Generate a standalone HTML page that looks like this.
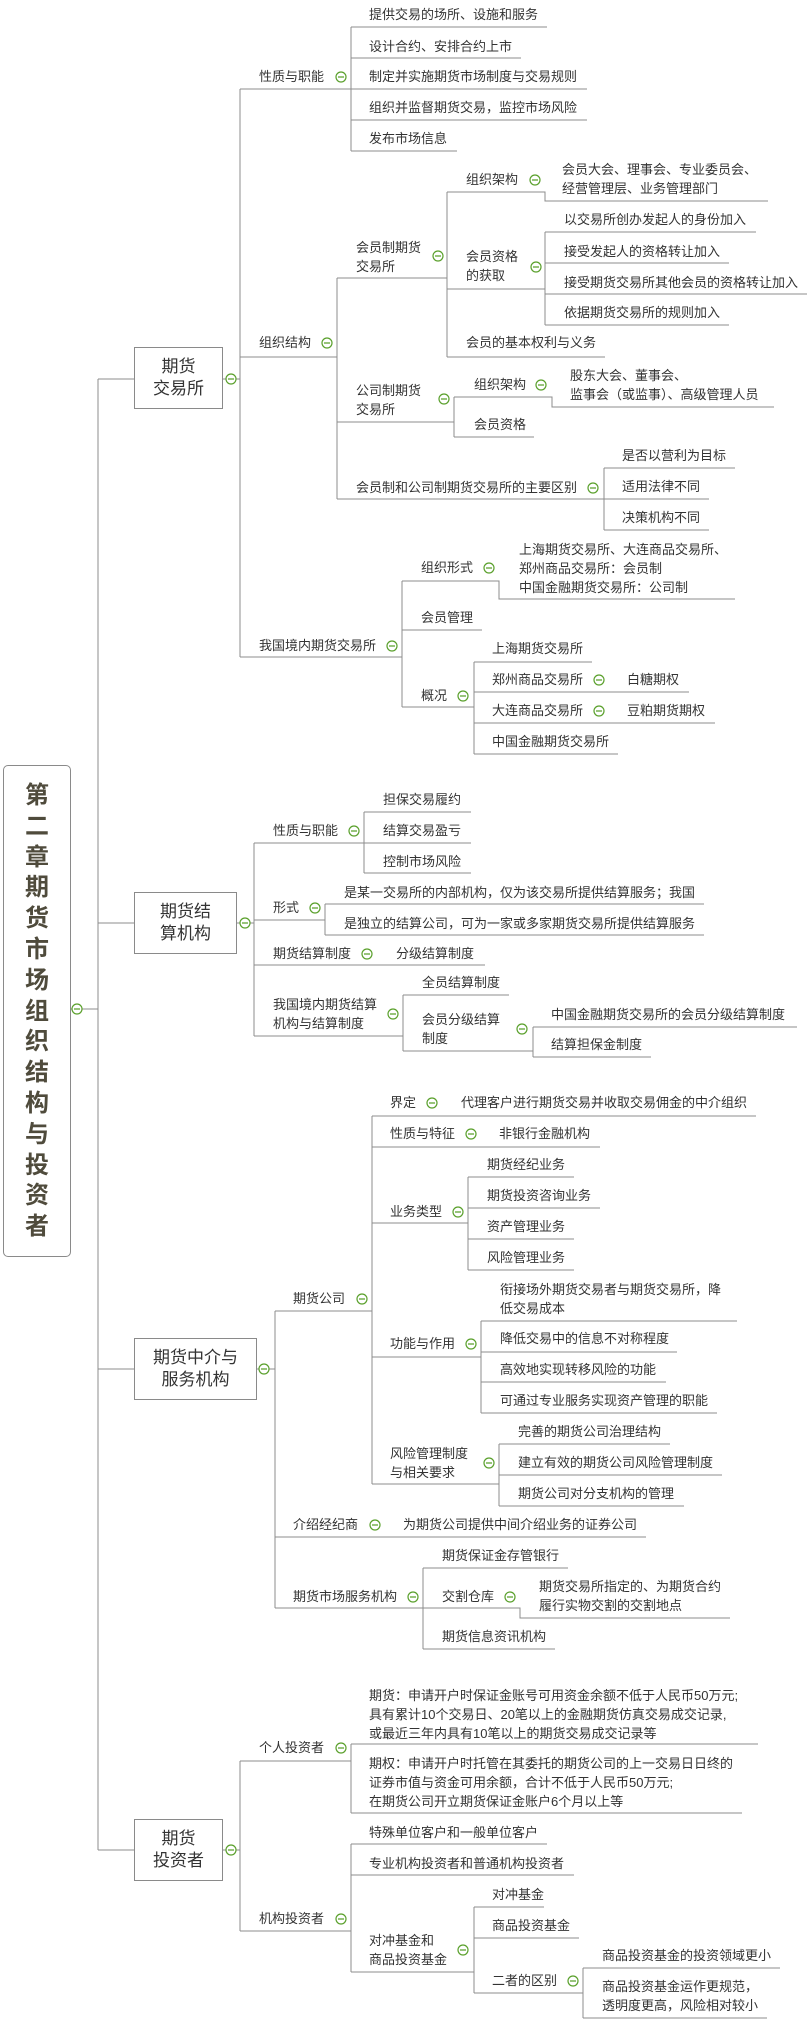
<!DOCTYPE html>
<html><head><meta charset="utf-8">
<style>
body{margin:0;background:#fff;}
#w{position:relative;width:809px;height:2022px;overflow:hidden;background:#fff;font-family:"Liberation Sans","Noto Sans CJK SC",sans-serif;color:#333;}
.t{position:absolute;font-size:13px;line-height:16px;white-space:nowrap;}
.m{line-height:19px;}
.box{position:absolute;border:1px solid #8a8a8a;box-sizing:border-box;font-size:17px;line-height:22px;text-align:center;display:flex;align-items:center;justify-content:center;color:#333;background:#fff;}
#root{position:absolute;left:3px;top:765px;width:68px;height:492px;border:1px solid #8a8a8a;border-radius:5px;box-sizing:border-box;text-align:center;font-weight:bold;font-size:24px;line-height:30.8px;color:#4f4b3c;padding-top:15px;}
svg{position:absolute;left:0;top:0;}
</style></head><body><div id="w">
<svg width="809" height="2022" viewBox="0 0 809 2022">
<g fill="none" stroke="#8c8c8c" stroke-width="1" shape-rendering="crispEdges">
<path d="M70 1009H98M98 379V1850M98 379H134M98 923H134M98 1369H134M98 1850H134"/>
<path d="M223 379H240M240 89V657M240 89H351M351 27V151M351 27H547M351 58H521M351 89H587M351 120H587M351 151H457"/>
<path d="M240 357H337M337 278V499M337 278H447M447 192V357M447 192H545V201H768M447 289H545M545 232V325M545 232H756M545 263H729M545 294H807M545 325H729M447 357H605"/>
<path d="M337 422H454M454 397V437M454 397H552V407H774M454 437H534"/>
<path d="M337 499H604M604 468V530M604 468H735M604 499H709M604 530H709"/>
<path d="M240 657H402M402 581V707M402 581H499V599H735M402 630H482M402 707H474M474 662V754M474 662H592M474 692H689M474 723H715M474 754H618"/>
<path d="M237 923H254M254 843V1036M254 843H364M364 812V873M364 812H471M364 843H471M364 873H471M254 920H325M325 904V935M325 904H704M325 935H704M254 965H485M254 1036H403M403 995V1051M403 995H509M403 1051H533M533 1027V1057M533 1027H797M533 1057H651"/>
<path d="M257 1369H275M275 1311V1608M275 1311H372M372 1116V1484M372 1116H756M372 1147H600M372 1223H468M468 1177V1270M468 1177H574M468 1208H600M468 1239H574M468 1270H574M372 1357H481M481 1321V1413M481 1321H737M481 1352H677M481 1382H666M481 1413H717M372 1484H499M499 1444V1506M499 1444H670M499 1475H722M499 1506H684M275 1537H646M275 1608H423M423 1568V1649M423 1568H568M423 1608H520V1618H730M423 1649H555"/>
<path d="M223 1850H240M240 1761V1931M240 1761H351M351 1744V1813M351 1744H758M351 1813H742M240 1931H351M351 1844V1972M351 1844H547M351 1875H574M351 1972H474M474 1907V1993M474 1907H544M474 1938H579M474 1993H583M583 1968V2018M583 1968H780M583 2018H767"/>
</g>
<g fill="#fff" stroke="#5aa02c" stroke-width="1.2">
<circle cx="77" cy="1009" r="5"/><circle cx="231" cy="379" r="5"/><circle cx="341" cy="77" r="5"/><circle cx="327" cy="343" r="5"/><circle cx="438" cy="256" r="5"/><circle cx="535" cy="180" r="5"/><circle cx="536" cy="267" r="5"/><circle cx="444" cy="399" r="5"/><circle cx="541" cy="385" r="5"/><circle cx="593" cy="488" r="5"/><circle cx="392" cy="646" r="5"/><circle cx="489" cy="568" r="5"/><circle cx="463" cy="696" r="5"/><circle cx="599" cy="680" r="5"/><circle cx="599" cy="711" r="5"/><circle cx="245" cy="923" r="5"/><circle cx="354" cy="831" r="5"/><circle cx="315" cy="908" r="5"/><circle cx="367" cy="954" r="5"/><circle cx="393" cy="1014" r="5"/><circle cx="522" cy="1029" r="5"/><circle cx="264" cy="1369" r="5"/><circle cx="362" cy="1299" r="5"/><circle cx="432" cy="1103" r="5"/><circle cx="471" cy="1134" r="5"/><circle cx="458" cy="1212" r="5"/><circle cx="471" cy="1344" r="5"/><circle cx="489" cy="1463" r="5"/><circle cx="375" cy="1525" r="5"/><circle cx="413" cy="1597" r="5"/><circle cx="510" cy="1597" r="5"/><circle cx="231" cy="1850" r="5"/><circle cx="341" cy="1748" r="5"/><circle cx="341" cy="1919" r="5"/><circle cx="463" cy="1950" r="5"/><circle cx="573" cy="1981" r="5"/>
</g>
<g stroke="#5aa02c" stroke-width="1.2">
<path d="M74 1009h6M228 379h6M338 77h6M324 343h6M435 256h6M532 180h6M533 267h6M441 399h6M538 385h6M590 488h6M389 646h6M486 568h6M460 696h6M596 680h6M596 711h6M242 923h6M351 831h6M312 908h6M364 954h6M390 1014h6M519 1029h6M261 1369h6M359 1299h6M429 1103h6M468 1134h6M455 1212h6M468 1344h6M486 1463h6M372 1525h6M410 1597h6M507 1597h6M228 1850h6M338 1748h6M338 1919h6M460 1950h6M570 1981h6"/>
</g>
</svg>

<div id="root">第<br>二<br>章<br>期<br>货<br>市<br>场<br>组<br>织<br>结<br>构<br>与<br>投<br>资<br>者</div>

<div class="box" style="left:134px;top:347px;width:89px;height:62px;">期货<br>交易所</div>
<div class="box" style="left:134px;top:892px;width:103px;height:62px;">期货结<br>算机构</div>
<div class="box" style="left:134px;top:1338px;width:123px;height:62px;">期货中介与<br>服务机构</div>
<div class="box" style="left:134px;top:1819px;width:89px;height:62px;">期货<br>投资者</div>

<!-- section 1 -->
<div class="t" style="left:259px;top:69px">性质与职能</div>
<div class="t" style="left:369px;top:7px">提供交易的场所、设施和服务</div>
<div class="t" style="left:369px;top:39px">设计合约、安排合约上市</div>
<div class="t" style="left:369px;top:69px">制定并实施期货市场制度与交易规则</div>
<div class="t" style="left:369px;top:100px">组织并监督期货交易，监控市场风险</div>
<div class="t" style="left:369px;top:131px">发布市场信息</div>
<div class="t" style="left:259px;top:335px">组织结构</div>
<div class="t m" style="left:356px;top:238px">会员制期货<br>交易所</div>
<div class="t" style="left:466px;top:172px">组织架构</div>
<div class="t m" style="left:562px;top:160px">会员大会、理事会、专业委员会、<br>经营管理层、业务管理部门</div>
<div class="t m" style="left:466px;top:247px">会员资格<br>的获取</div>
<div class="t" style="left:564px;top:212px">以交易所创办发起人的身份加入</div>
<div class="t" style="left:564px;top:244px">接受发起人的资格转让加入</div>
<div class="t" style="left:564px;top:275px">接受期货交易所其他会员的资格转让加入</div>
<div class="t" style="left:564px;top:305px">依据期货交易所的规则加入</div>
<div class="t" style="left:466px;top:335px">会员的基本权利与义务</div>
<div class="t m" style="left:356px;top:381px">公司制期货<br>交易所</div>
<div class="t" style="left:474px;top:377px">组织架构</div>
<div class="t m" style="left:570px;top:366px">股东大会、董事会、<br>监事会（或监事）、高级管理人员</div>
<div class="t" style="left:474px;top:417px">会员资格</div>
<div class="t" style="left:356px;top:480px">会员制和公司制期货交易所的主要区别</div>
<div class="t" style="left:622px;top:448px">是否以营利为目标</div>
<div class="t" style="left:622px;top:479px">适用法律不同</div>
<div class="t" style="left:622px;top:510px">决策机构不同</div>
<div class="t" style="left:259px;top:638px">我国境内期货交易所</div>
<div class="t" style="left:421px;top:560px">组织形式</div>
<div class="t m" style="left:519px;top:540px">上海期货交易所、大连商品交易所、<br>郑州商品交易所：会员制<br>中国金融期货交易所：公司制</div>
<div class="t" style="left:421px;top:610px">会员管理</div>
<div class="t" style="left:421px;top:688px">概况</div>
<div class="t" style="left:492px;top:641px">上海期货交易所</div>
<div class="t" style="left:492px;top:672px">郑州商品交易所</div>
<div class="t" style="left:627px;top:672px">白糖期权</div>
<div class="t" style="left:492px;top:703px">大连商品交易所</div>
<div class="t" style="left:627px;top:703px">豆粕期货期权</div>
<div class="t" style="left:492px;top:734px">中国金融期货交易所</div>

<!-- section 2 -->
<div class="t" style="left:273px;top:823px">性质与职能</div>
<div class="t" style="left:383px;top:792px">担保交易履约</div>
<div class="t" style="left:383px;top:823px">结算交易盈亏</div>
<div class="t" style="left:383px;top:854px">控制市场风险</div>
<div class="t" style="left:273px;top:900px">形式</div>
<div class="t" style="left:344px;top:885px">是某一交易所的内部机构，仅为该交易所提供结算服务；我国</div>
<div class="t" style="left:344px;top:916px">是独立的结算公司，可为一家或多家期货交易所提供结算服务</div>
<div class="t" style="left:273px;top:946px">期货结算制度</div>
<div class="t" style="left:396px;top:946px">分级结算制度</div>
<div class="t m" style="left:273px;top:995px">我国境内期货结算<br>机构与结算制度</div>
<div class="t" style="left:422px;top:975px">全员结算制度</div>
<div class="t m" style="left:422px;top:1010px">会员分级结算<br>制度</div>
<div class="t" style="left:551px;top:1007px">中国金融期货交易所的会员分级结算制度</div>
<div class="t" style="left:551px;top:1037px">结算担保金制度</div>

<!-- section 3 -->
<div class="t" style="left:293px;top:1291px">期货公司</div>
<div class="t" style="left:390px;top:1095px">界定</div>
<div class="t" style="left:461px;top:1095px">代理客户进行期货交易并收取交易佣金的中介组织</div>
<div class="t" style="left:390px;top:1126px">性质与特征</div>
<div class="t" style="left:499px;top:1126px">非银行金融机构</div>
<div class="t" style="left:390px;top:1204px">业务类型</div>
<div class="t" style="left:487px;top:1157px">期货经纪业务</div>
<div class="t" style="left:487px;top:1188px">期货投资咨询业务</div>
<div class="t" style="left:487px;top:1219px">资产管理业务</div>
<div class="t" style="left:487px;top:1250px">风险管理业务</div>
<div class="t" style="left:390px;top:1336px">功能与作用</div>
<div class="t m" style="left:500px;top:1280px">衔接场外期货交易者与期货交易所，降<br>低交易成本</div>
<div class="t" style="left:500px;top:1331px">降低交易中的信息不对称程度</div>
<div class="t" style="left:500px;top:1362px">高效地实现转移风险的功能</div>
<div class="t" style="left:500px;top:1393px">可通过专业服务实现资产管理的职能</div>
<div class="t m" style="left:390px;top:1444px">风险管理制度<br>与相关要求</div>
<div class="t" style="left:518px;top:1424px">完善的期货公司治理结构</div>
<div class="t" style="left:518px;top:1455px">建立有效的期货公司风险管理制度</div>
<div class="t" style="left:518px;top:1486px">期货公司对分支机构的管理</div>
<div class="t" style="left:293px;top:1517px">介绍经纪商</div>
<div class="t" style="left:403px;top:1517px">为期货公司提供中间介绍业务的证券公司</div>
<div class="t" style="left:293px;top:1589px">期货市场服务机构</div>
<div class="t" style="left:442px;top:1548px">期货保证金存管银行</div>
<div class="t" style="left:442px;top:1589px">交割仓库</div>
<div class="t m" style="left:539px;top:1577px">期货交易所指定的、为期货合约<br>履行实物交割的交割地点</div>
<div class="t" style="left:442px;top:1629px">期货信息资讯机构</div>

<!-- section 4 -->
<div class="t" style="left:259px;top:1740px">个人投资者</div>
<div class="t m" style="left:369px;top:1686px">期货：申请开户时保证金账号可用资金余额不低于人民币50万元;<br>具有累计10个交易日、20笔以上的金融期货仿真交易成交记录,<br>或最近三年内具有10笔以上的期货交易成交记录等</div>
<div class="t m" style="left:369px;top:1754px">期权：申请开户时托管在其委托的期货公司的上一交易日日终的<br>证券市值与资金可用余额，合计不低于人民币50万元;<br>在期货公司开立期货保证金账户6个月以上等</div>
<div class="t" style="left:259px;top:1911px">机构投资者</div>
<div class="t" style="left:369px;top:1825px">特殊单位客户和一般单位客户</div>
<div class="t" style="left:369px;top:1856px">专业机构投资者和普通机构投资者</div>
<div class="t m" style="left:369px;top:1931px">对冲基金和<br>商品投资基金</div>
<div class="t" style="left:492px;top:1887px">对冲基金</div>
<div class="t" style="left:492px;top:1918px">商品投资基金</div>
<div class="t" style="left:492px;top:1973px">二者的区别</div>
<div class="t" style="left:602px;top:1948px">商品投资基金的投资领域更小</div>
<div class="t m" style="left:602px;top:1977px">商品投资基金运作更规范，<br>透明度更高，风险相对较小</div>
</div></body></html>
